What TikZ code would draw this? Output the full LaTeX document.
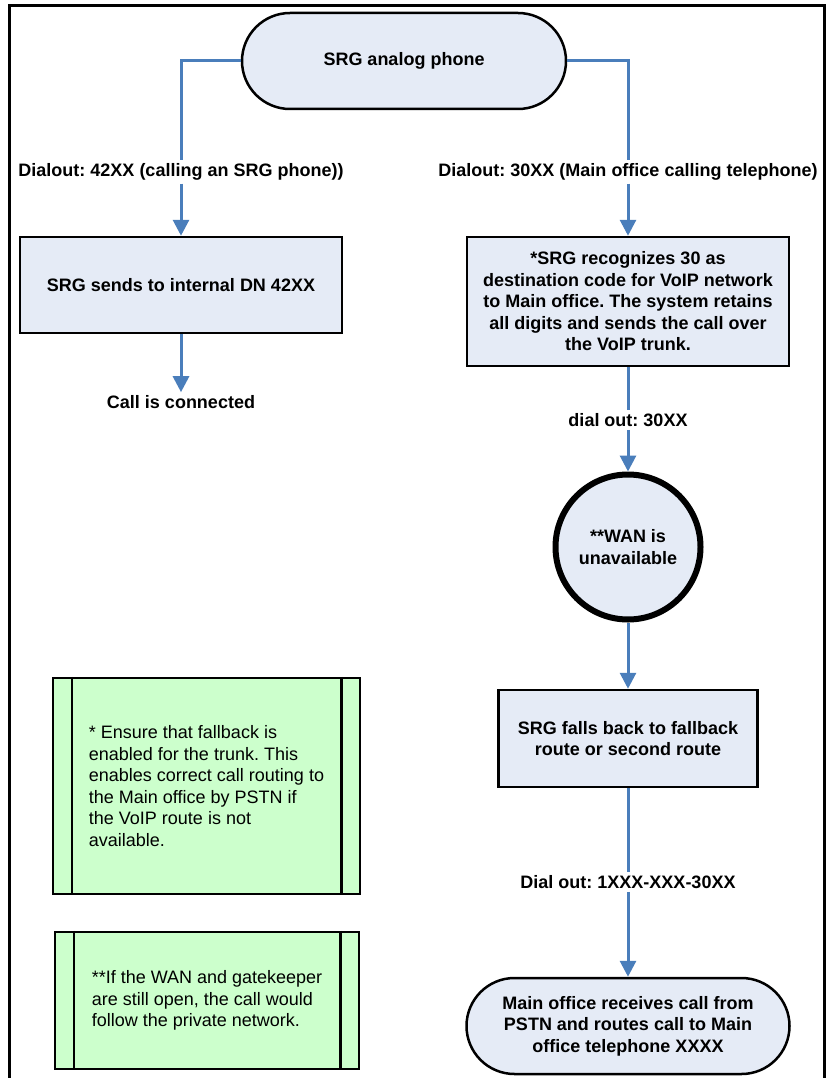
\documentclass[tikz,border=0pt]{standalone}
\usepackage{fontspec}
\setmainfont{Liberation Sans}
\usetikzlibrary{arrows.meta}
\definecolor{boxblue}{HTML}{E5EBF6}
\definecolor{linkblue}{HTML}{4A7EBB}
\definecolor{notegreen}{HTML}{CCFFCC}
\frenchspacing
\begin{document}
\begin{tikzpicture}[x=1pt,y=-1pt,
  txt/.style={font=\fontsize{18}{21.5}\selectfont\bfseries, align=center},
  flowbox/.style={txt, draw=black, line width=2.5pt, fill=boxblue, inner sep=0pt},
  term/.style={flowbox, rounded corners=48pt},
  lbl/.style={txt, fill=white, inner sep=3pt},
  link/.style={draw=linkblue, line width=3pt, -{Triangle[width=16pt,length=16pt]}},
  plainlink/.style={draw=linkblue, line width=3pt},
  note/.style={draw=black, line width=2.5pt, fill=notegreen, font=\fontsize{18}{21.5}\selectfont, align=left, inner sep=0pt},
  frame/.style={draw=black, line width=3.5pt}
]
\useasboundingbox (0,0) rectangle (830,1078);
% frame
\draw[frame] (9.5,1078) -- (9.5,5.5) -- (824.5,5.5) -- (824.5,1078);

% nodes
\node[term, minimum width=324pt, minimum height=96pt] (top) at (404,61) {SRG analog phone};
\node[lbl] (l1) at (181,172) {Dialout: 42XX (calling an SRG phone))};
\node[lbl] (l2) at (628,172) {Dialout: 30XX (Main office calling telephone)};
\node[flowbox, minimum width=322pt, minimum height=96pt] (b1) at (181,285) {SRG sends to internal DN 42XX};
\node[txt, inner sep=3pt] (c1) at (181,402) {Call is connected};
\node[flowbox, minimum width=322pt, minimum height=129pt] (b2) at (628,301.5) {*SRG recognizes 30 as\\destination code for VoIP network\\to Main office. The system retains\\all digits and sends the call over\\the VoIP trunk.};
\node[lbl] (l3) at (628,420) {dial out: 30XX};
\node[flowbox, circle, line width=6pt, minimum size=145pt] (wan) at (628,547) {**WAN is\\unavailable};
\node[flowbox, minimum width=259pt, minimum height=97pt] (b3) at (628,738.5) {SRG falls back to fallback\\route or second route};
\node[lbl] (l4) at (628,882) {Dial out: 1XXX-XXX-30XX};
\node[term, minimum width=323pt, minimum height=96pt] (b4) at (628,1026) {Main office receives call from\\PSTN and routes call to Main\\office telephone XXXX};

% notes
\node[note, minimum width=307pt, minimum height=216pt] (g1) at (206.5,786) {* Ensure that fallback is\\enabled for the trunk. This\\enables correct call routing to\\the Main office by PSTN if\\the VoIP route is not\\available.};
\draw[line width=2.5pt] ([xshift=20pt]g1.north west) -- ([xshift=20pt]g1.south west);
\draw[line width=2.5pt] ([xshift=-20pt]g1.north east) -- ([xshift=-20pt]g1.south east);
\node[note, minimum width=304pt, minimum height=137pt] (g2) at (207,1000.5) {**If the WAN and gatekeeper\\are still open, the call would\\follow the private network.};
\draw[line width=2.5pt] ([xshift=20pt]g2.north west) -- ([xshift=20pt]g2.south west);
\draw[line width=2.5pt] ([xshift=-20pt]g2.north east) -- ([xshift=-20pt]g2.south east);

% connectors
\draw[plainlink] (top.west) -| (l1.north);
\draw[plainlink] (top.east) -| (l2.north);
\draw[link] (l1.south) -- (l1.south |- b1.north);
\draw[link] (l2.south) -- (l2.south |- b2.north);
\draw[link] (b1.south) -- (b1.south |- c1.north);
\draw[plainlink] (b2.south) -- (l3.north);
\draw[link] (l3.south) -- (wan.north);
\draw[link] (wan.south) -- (b3.north);
\draw[plainlink] (b3.south) -- (l4.north);
\draw[link] (l4.south) -- (b4.north);
\end{tikzpicture}
\end{document}
